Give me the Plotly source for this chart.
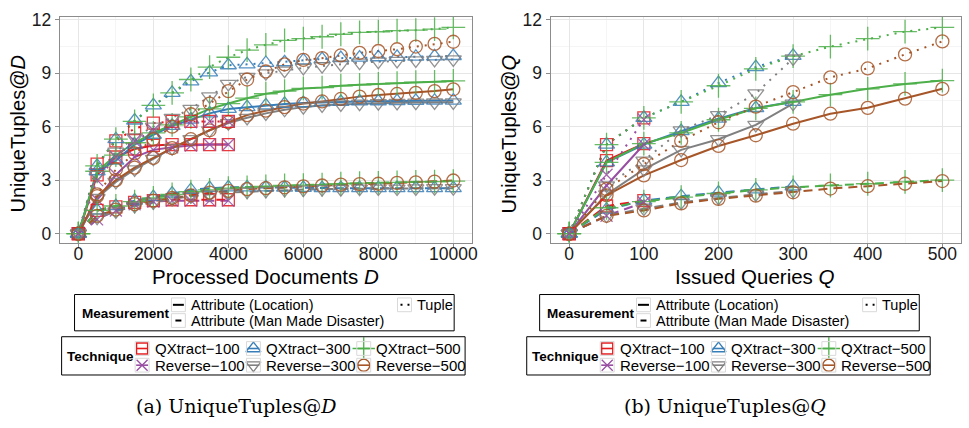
import plotly.graph_objects as go

W, H = 969, 428

# ---------------- data ----------------
DOCS = list(range(0, 10001, 500))          # Processed documents D
QUERIES = list(range(0, 501, 50))          # Issued queries Q

TECHNIQUES = ["QXtract−100", "QXtract−300", "QXtract−500",
              "Reverse−100", "Reverse−300", "Reverse−500"]
MEASUREMENTS = ["Attribute (Location)", "Attribute (Man Made Disaster)", "Tuple"]

X_TICKS_D = [0, 2000, 4000, 6000, 8000, 10000]
X_TICKS_Q = [0, 100, 200, 300, 400, 500]
Y_TICKS = [0, 3, 6, 9, 12]

# UniqueTuples@D  -- Attribute (Location)
D_LOC_QX100 = [0, 3.3, 4.3, 4.75, 4.95, 5.0, 5.0, 5.0, 5.0]
D_LOC_QX300 = [0, 3.5, 4.1, 5.0, 5.55, 6.05, 6.4, 6.75, 7.0, 7.1, 7.2, 7.28, 7.33, 7.37, 7.4, 7.42, 7.43, 7.44, 7.45, 7.46, 7.47]
D_LOC_QX500 = [0, 3.5, 4.4, 5.1, 5.65, 6.1, 6.55, 7.0, 7.3, 7.6, 7.85, 8.0, 8.15, 8.2, 8.3, 8.35, 8.4, 8.45, 8.5, 8.52, 8.57]
D_LOC_RV100 = [0, 1.9, 3.3, 4.3, 4.7, 4.85, 4.95, 5.0, 5.0]
D_LOC_RV300 = [0, 2.0, 2.9, 3.6, 4.2, 4.8, 5.3, 5.8, 6.2, 6.5, 6.75, 6.95, 7.1, 7.2, 7.25, 7.3, 7.32, 7.34, 7.35, 7.36, 7.37]
D_LOC_RV500 = [0, 2.1, 3.0, 3.7, 4.25, 4.8, 5.3, 5.8, 6.25, 6.65, 6.9, 7.1, 7.3, 7.42, 7.56, 7.69, 7.78, 7.84, 7.9, 8.0, 8.1]
# UniqueTuples@D  -- Attribute (Man Made Disaster)
D_MMD_QX100 = [0, 1.3, 1.5, 1.75, 1.85, 1.9, 1.9, 1.9, 1.9]
D_MMD_QX300 = [0, 1.3, 1.55, 1.85, 2.05, 2.25, 2.45, 2.55, 2.6, 2.6, 2.6, 2.58, 2.57, 2.56, 2.55, 2.55, 2.55, 2.55, 2.55, 2.55, 2.55]
D_MMD_QX500 = [0, 1.3, 1.55, 1.8, 2.0, 2.2, 2.35, 2.45, 2.55, 2.6, 2.65, 2.7, 2.72, 2.75, 2.8, 2.83, 2.85, 2.88, 2.9, 2.92, 2.95]
D_MMD_RV100 = [0, 0.8, 1.3, 1.65, 1.8, 1.85, 1.85, 1.85, 1.85]
D_MMD_RV300 = [0, 0.9, 1.25, 1.55, 1.75, 1.95, 2.1, 2.2, 2.3, 2.35, 2.4, 2.45, 2.47, 2.5, 2.5, 2.52, 2.53, 2.53, 2.54, 2.55, 2.55]
D_MMD_RV500 = [0, 1.0, 1.35, 1.65, 1.85, 2.0, 2.15, 2.3, 2.4, 2.5, 2.55, 2.6, 2.65, 2.7, 2.75, 2.78, 2.8, 2.85, 2.88, 2.92, 2.98]
# UniqueTuples@D  -- Tuple
D_TUP_QX100 = [0, 3.9, 5.2, 5.9, 6.2, 6.3, 6.3, 6.3, 6.3]
D_TUP_QX300 = [0, 3.8, 5.3, 6.35, 7.2, 7.9, 8.55, 9.05, 9.45, 9.5, 9.58, 9.62, 9.72, 9.8, 9.85, 9.88, 9.9, 9.92, 9.93, 9.95, 9.97]
D_TUP_QX500 = [0, 3.8, 5.3, 6.3, 7.2, 7.9, 8.65, 9.35, 9.9, 10.3, 10.6, 10.85, 10.95, 11.05, 11.19, 11.3, 11.33, 11.4, 11.42, 11.48, 11.58]
D_TUP_RV100 = [0, 3.0, 4.3, 5.2, 5.8, 6.1, 6.25, 6.3, 6.3]
D_TUP_RV300 = [0, 3.3, 4.6, 5.4, 6.0, 6.5, 7.0, 7.7, 8.4, 8.8, 9.0, 9.15, 9.3, 9.4, 9.5, 9.6, 9.65, 9.7, 9.72, 9.75, 9.78]
D_TUP_RV500 = [0, 2.2, 3.6, 4.5, 5.3, 6.0, 6.7, 7.3, 8.0, 8.65, 9.1, 9.5, 9.75, 9.85, 10.0, 10.15, 10.25, 10.35, 10.5, 10.65, 10.77]

# UniqueTuples@Q  -- Attribute (Location)
Q_LOC_QX100 = [0, 4.1, 5.05]
Q_LOC_QX300 = [0, 4.0, 5.0, 5.75, 6.45, 7.05, 7.4]
Q_LOC_QX500 = [0, 4.0, 5.05, 5.65, 6.39, 7.03, 7.39, 7.8, 8.13, 8.4, 8.59]
Q_LOC_RV100 = [0, 2.7, 5.0]
Q_LOC_RV300 = [0, 2.2, 3.6, 4.7, 5.3, 6.1, 7.3]
Q_LOC_RV500 = [0, 2.15, 3.27, 4.13, 4.92, 5.52, 6.17, 6.73, 7.06, 7.58, 8.13]
# UniqueTuples@Q  -- Attribute (Man Made Disaster)
Q_MMD_QX100 = [0, 1.55, 1.85]
Q_MMD_QX300 = [0, 1.35, 1.85, 2.1, 2.3, 2.48, 2.65]
Q_MMD_QX500 = [0, 1.45, 1.8, 2.05, 2.25, 2.45, 2.6, 2.7, 2.8, 2.9, 3.0]
Q_MMD_RV100 = [0, 1.0, 1.75]
Q_MMD_RV300 = [0, 1.0, 1.4, 1.75, 2.0, 2.2, 2.4]
Q_MMD_RV500 = [0, 1.0, 1.3, 1.7, 1.95, 2.13, 2.32, 2.53, 2.66, 2.8, 2.95]
# UniqueTuples@Q  -- Tuple
Q_TUP_QX100 = [0, 5.0, 6.5]
Q_TUP_QX300 = [0, 5.0, 6.5, 7.4, 8.45, 9.35, 9.98]
Q_TUP_QX500 = [0, 5.0, 6.5, 7.4, 8.3, 9.25, 9.96, 10.5, 10.94, 11.34, 11.58]
Q_TUP_RV100 = [0, 3.3, 6.4]
Q_TUP_RV300 = [0, 2.7, 4.1, 5.8, 6.65, 7.87, 9.83]
Q_TUP_RV500 = [0, 2.5, 3.9, 5.2, 6.25, 7.13, 7.94, 8.77, 9.27, 10.06, 10.79]

# ---------------- styles ----------------
COLORS = {"QXtract−100": "#E41A1C", "QXtract−300": "#377EB8", "QXtract−500": "#4DAF4A",
          "Reverse−100": "#984EA3", "Reverse−300": "#808080", "Reverse−500": "#A65628"}
SYMBOLS = {"QXtract−100": "square-open", "QXtract−300": "triangle-up-open",
           "QXtract−500": "cross-thin-open", "Reverse−100": "x-thin-open",
           "Reverse−300": "triangle-down-open", "Reverse−500": "circle-open"}
SIZES = {"QXtract−100": 12, "QXtract−300": 14, "QXtract−500": 17,
         "Reverse−100": 12, "Reverse−300": 14, "Reverse−500": 13}
DASHES = {"Attribute (Location)": "solid",
          "Attribute (Man Made Disaster)": "9px,6px",
          "Tuple": "2px,6px"}
FONT = "Liberation Sans, Arial, sans-serif"

left = {
    "Attribute (Location)": [D_LOC_QX100, D_LOC_QX300, D_LOC_QX500, D_LOC_RV100, D_LOC_RV300, D_LOC_RV500],
    "Attribute (Man Made Disaster)": [D_MMD_QX100, D_MMD_QX300, D_MMD_QX500, D_MMD_RV100, D_MMD_RV300, D_MMD_RV500],
    "Tuple": [D_TUP_QX100, D_TUP_QX300, D_TUP_QX500, D_TUP_RV100, D_TUP_RV300, D_TUP_RV500],
}
right = {
    "Attribute (Location)": [Q_LOC_QX100, Q_LOC_QX300, Q_LOC_QX500, Q_LOC_RV100, Q_LOC_RV300, Q_LOC_RV500],
    "Attribute (Man Made Disaster)": [Q_MMD_QX100, Q_MMD_QX300, Q_MMD_QX500, Q_MMD_RV100, Q_MMD_RV300, Q_MMD_RV500],
    "Tuple": [Q_TUP_QX100, Q_TUP_QX300, Q_TUP_QX500, Q_TUP_RV100, Q_TUP_RV300, Q_TUP_RV500],
}

fig = go.Figure()

def add_panel(data, xs, xa, ya):
    # lines first, then points (like ggplot layering)
    for meas in MEASUREMENTS:
        for tech, ys in zip(TECHNIQUES, data[meas]):
            fig.add_trace(go.Scatter(
                x=xs[:len(ys)], y=ys, mode="lines", xaxis=xa, yaxis=ya,
                line=dict(color=COLORS[tech], width=2, dash=DASHES[meas]),
                showlegend=False, hoverinfo="skip"))
    for meas in MEASUREMENTS:
        for tech, ys in zip(TECHNIQUES, data[meas]):
            fig.add_trace(go.Scatter(
                x=xs[:len(ys)], y=ys, mode="markers", xaxis=xa, yaxis=ya,
                marker=dict(symbol=SYMBOLS[tech], size=SIZES[tech], color=COLORS[tech],
                            opacity=0.85, line=dict(width=1.3, color=COLORS[tech])),
                name=f"{tech} / {meas}", showlegend=False))

add_panel(left, DOCS, "x", "y")
add_panel(right, QUERIES, "x2", "y2")

# ---------------- axes ----------------
def pxx(v):
    return v / W

def pxy(v):
    return 1 - v / H

axis_common = dict(showline=True, mirror=True, linecolor="#8c8c8c", linewidth=1,
                   ticks="outside", ticklen=4, tickcolor="#8c8c8c", tickwidth=1,
                   showgrid=True, gridcolor="#e6e6e6", gridwidth=1, zeroline=False,
                   tickfont=dict(family=FONT, size=17.5, color="#1a1a1a"))

fig.update_layout(
    width=W, height=H, margin=dict(l=0, r=0, t=0, b=0),
    paper_bgcolor="white", plot_bgcolor="rgba(0,0,0,0)",
    xaxis=dict(domain=[pxx(60), pxx(475)], range=[-500, 10500], anchor="y",
               tickmode="array", tickvals=X_TICKS_D, ticktext=[str(v) for v in X_TICKS_D],
               ticklabelstandoff=-9,
               minor=dict(dtick=1000, tick0=0, showgrid=True, gridcolor="#f5f5f5", ticks=""),
               **axis_common),
    yaxis=dict(domain=[pxy(240), pxy(10)], range=[-0.5, 12.17], anchor="x",
               tickmode="array", tickvals=Y_TICKS, ticktext=[str(v) for v in Y_TICKS],
               minor=dict(dtick=1.5, tick0=0, showgrid=True, gridcolor="#f5f5f5", ticks=""),
               **axis_common),
    xaxis2=dict(domain=[pxx(554), pxx(967)], range=[-25, 525], anchor="y2",
                tickmode="array", tickvals=X_TICKS_Q, ticktext=[str(v) for v in X_TICKS_Q],
                ticklabelstandoff=-9,
                minor=dict(dtick=50, tick0=0, showgrid=True, gridcolor="#f5f5f5", ticks=""),
                **axis_common),
    yaxis2=dict(domain=[pxy(240), pxy(10)], range=[-0.5, 12.17], anchor="x2",
                tickmode="array", tickvals=Y_TICKS, ticktext=[str(v) for v in Y_TICKS],
                minor=dict(dtick=1.5, tick0=0, showgrid=True, gridcolor="#f5f5f5", ticks=""),
                **axis_common),
    # overlay in pixel coordinates for legends / captions
    xaxis3=dict(domain=[0, 1], range=[0, W], visible=False, anchor="y3", fixedrange=True),
    yaxis3=dict(domain=[0, 1], range=[H, 0], visible=False, anchor="x3", fixedrange=True),
)

annotations = []
shapes = []

def text(x, y, s, size=15, xanchor="left", angle=0, family=FONT, color="black"):
    annotations.append(dict(x=x, y=y, xref="x3", yref="y3", text=s, showarrow=False,
                            xanchor=xanchor, yanchor="middle", textangle=angle,
                            font=dict(family=family, size=size, color=color)))

def rect(x0, y0, x1, y1, color="black", width=1, fill="rgba(0,0,0,0)"):
    shapes.append(dict(type="rect", xref="x3", yref="y3", x0=x0, y0=y0, x1=x1, y1=y1,
                       line=dict(color=color, width=width), fillcolor=fill, layer="above"))

def key_line(x0, x1, y, color, dash, width=2):
    fig.add_trace(go.Scatter(x=[x0, x1], y=[y, y], mode="lines", xaxis="x3", yaxis="y3",
                             line=dict(color=color, width=width, dash=dash),
                             showlegend=False, hoverinfo="skip"))

def key_marker(x, y, tech):
    fig.add_trace(go.Scatter(x=[x], y=[y], mode="markers", xaxis="x3", yaxis="y3",
                             marker=dict(symbol=SYMBOLS[tech], size=SIZES[tech] - 1,
                                         color=COLORS[tech],
                                         line=dict(width=1.3, color=COLORS[tech])),
                             showlegend=False, hoverinfo="skip"))

def legends(ox):
    # Measurement legend
    rect(75 + ox, 293, 457 + ox, 330)
    text(80 + ox, 312, "<b>Measurement</b>", size=13.5)
    mkeys = [(172.5, 296.5, MEASUREMENTS[0]), (172.5, 312.5, MEASUREMENTS[1]), (400, 296.5, MEASUREMENTS[2])]
    for kx, ky, meas in mkeys:
        rect(kx + ox, ky, kx + 14 + ox, ky + 14, color="#d9d9d9")
        if meas == "Tuple":
            key_line(kx + 3 + ox, kx + 12 + ox, ky + 7, "black", "2px,5px")
        elif meas == "Attribute (Man Made Disaster)":
            key_line(kx + 4 + ox, kx + 10 + ox, ky + 7, "black", "solid")
        else:
            key_line(kx + 1.5 + ox, kx + 12.5 + ox, ky + 7, "black", "solid")
        text(kx + 17.5 + ox, ky + 7, meas, size=14.5)
    # Technique legend
    rect(62 + ox, 336, 468 + ox, 375)
    text(65 + ox, 356, "<b>Technique</b>", size=13.5)
    cols = [136, 248, 359]
    rows = [341, 358]
    for i, tech in enumerate(TECHNIQUES):
        kx = cols[i % 3]
        ky = rows[i // 3]
        rect(kx + ox, ky, kx + 14 + ox, ky + 14, color="#d9d9d9")
        key_line(kx + 1 + ox, kx + 13 + ox, ky + 7, COLORS[tech], "solid", width=1.6)
        key_marker(kx + 7 + ox, ky + 7, tech)
        text(kx + 17.5 + ox, ky + 7, tech, size=15)

legends(0)
legends(468)

# axis titles
text(267, 275, "Processed Documents <i>D</i>", size=20.5, xanchor="center")
text(760, 275, "Issued Queries <i>Q</i>", size=20.5, xanchor="center")
text(18, 129, "UniqueTuples@<i>D</i>", size=20, xanchor="center", angle=-90)
text(512, 129, "UniqueTuples@<i>Q</i>", size=20, xanchor="center", angle=-90)

# captions
text(238, 407, "(a) UniqueTuples@<i>D</i>", size=19, xanchor="center", family="DejaVu Serif")
text(730, 407, "(b) UniqueTuples@<i>Q</i>", size=19, xanchor="center", family="DejaVu Serif")

fig.update_layout(annotations=annotations, shapes=shapes)

fig.write_html("out.html")
